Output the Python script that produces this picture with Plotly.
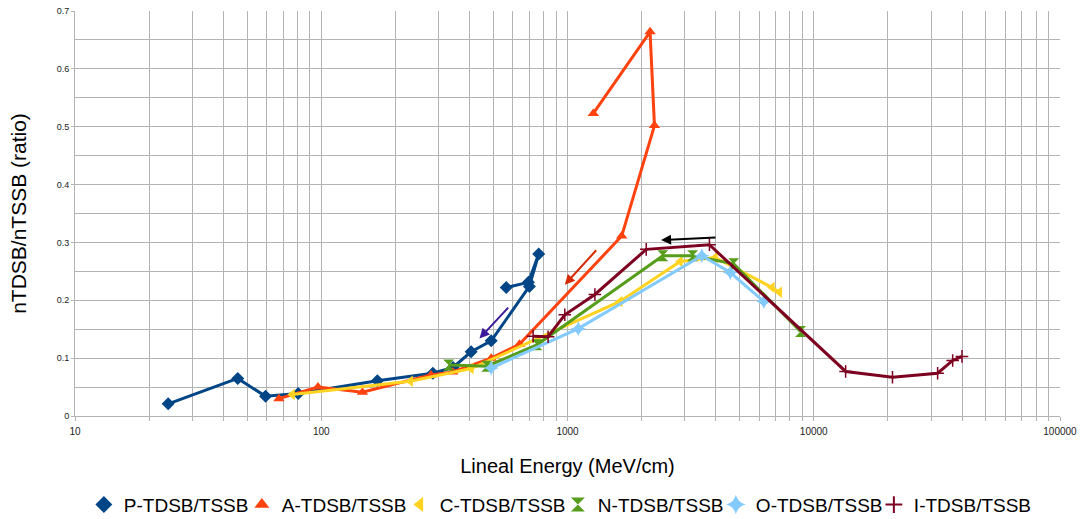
import numpy as np
import plotly.graph_objects as go

# ---- data ----
p_x = [23.9, 45.8, 59.4, 80.6, 169, 284, 343, 406, 490, 700, 764, 694, 564]
p_y = [0.021, 0.065, 0.034, 0.039, 0.061, 0.074, 0.084, 0.111, 0.130, 0.224, 0.280, 0.231, 0.222]

a_x = [67.3, 97, 147, 279, 342, 490, 638, 1660, 2255, 2164, 1273]
a_y = [0.030, 0.050, 0.041, 0.071, 0.076, 0.100, 0.124, 0.311, 0.502, 0.664, 0.523]

c_x = [76.3, 230, 406, 1634, 2867, 3981, 6776, 7256]
c_y = [0.037, 0.060, 0.082, 0.198, 0.267, 0.274, 0.222, 0.214]

n_x = [329, 470, 751, 2438, 3221, 4732, 8837]
n_y = [0.088, 0.086, 0.123, 0.277, 0.277, 0.263, 0.146]

o_x = [490, 1106, 3513, 4583, 6268]
o_y = [0.083, 0.151, 0.277, 0.248, 0.198]

i_x = [725, 834, 975, 1292, 2088, 3771, 13476, 20880, 31842, 36660, 39990]
i_y = [0.138, 0.137, 0.175, 0.210, 0.288, 0.296, 0.077, 0.067, 0.074, 0.096, 0.103]

series_names = ["P-TDSB/TSSB", "A-TDSB/TSSB", "C-TDSB/TSSB", "N-TDSB/TSSB", "O-TDSB/TSSB", "I-TDSB/TSSB"]

x_tickvals = [10, 100, 1000, 10000, 100000]
x_ticktext = ["10", "100", "1000", "10000", "100000"]

# arrows: (tail x, tail y, head x, head y, color)
arrows = [
    (582, 0.190, 439, 0.134, "#3a1a9a"),
    (1325, 0.289, 975, 0.227, "#d62b00"),
    (4046, 0.3085, 2399, 0.304, "#000000"),
]

# ---- styles ----
colors = ["#004586", "#ff420e", "#ffd320", "#579d1c", "#83caff", "#7e0021"]
symbols = ["diamond", "triangle-up", "triangle-left", "hourglass", "star-diamond", "cross-thin"]
sizes = [10, 10, 10, 11, 11, 9]

data = [(p_x, p_y), (a_x, a_y), (c_x, c_y), (n_x, n_y), (o_x, o_y), (i_x, i_y)]

fig = go.Figure()
for k, (xs, ys) in enumerate(data):
    mk = dict(symbol=symbols[k], size=sizes[k], color=colors[k],
              line=dict(width=1.5 if symbols[k] == "cross-thin" else 0, color=colors[k]))
    fig.add_trace(go.Scatter(x=xs, y=ys, mode="lines+markers", name=series_names[k],
                             line=dict(color=colors[k], width=3), marker=mk,
                             showlegend=False))
# legend proxies (markers only, as in the reference legend)
for k in range(6):
    mk = dict(symbol=symbols[k], size=sizes[k] + 3, color=colors[k],
              line=dict(width=2 if symbols[k] == "cross-thin" else 0, color=colors[k]))
    fig.add_trace(go.Scatter(x=[None], y=[None], mode="markers", name=series_names[k],
                             marker=mk, showlegend=True))

for tx, ty, hx, hy, col in arrows:
    fig.add_annotation(x=np.log10(hx), y=hy, ax=np.log10(tx), ay=ty,
                       xref="x", yref="y", axref="x", ayref="y",
                       showarrow=True, arrowhead=2, arrowsize=1, arrowwidth=2,
                       arrowcolor=col, text="")

minor_x = [m * 10 ** e for e in range(1, 5) for m in range(2, 10)]

fig.update_xaxes(type="log", range=[1, 5], tickvals=x_tickvals, ticktext=x_ticktext,
                 showgrid=True, gridcolor="#b3b3b3", gridwidth=1,
                 ticks="outside", ticklen=4, tickcolor="#b3b3b3", ticklabelstandoff=2,
                 showline=True, linecolor="#b3b3b3", linewidth=1, zeroline=False,
                 tickfont=dict(family="Liberation Sans, Arial", size=10, color="#222"),
                 minor=dict(tickvals=minor_x, showgrid=True, gridcolor="#b3b3b3",
                            gridwidth=1, ticks="outside", ticklen=4, tickcolor="#b3b3b3"),
                 title=dict(text="Lineal Energy (MeV/cm)", standoff=22,
                            font=dict(family="Liberation Sans, Arial", size=20, color="#000")))
fig.update_yaxes(range=[0, 0.7], dtick=0.1, tick0=0,
                 showgrid=True, gridcolor="#b3b3b3", gridwidth=1,
                 ticks="outside", ticklen=3, tickcolor="#b3b3b3",
                 showline=True, linecolor="#b3b3b3", linewidth=1, zeroline=False,
                 tickfont=dict(family="Liberation Sans, Arial", size=9, color="#222"),
                 minor=dict(dtick=0.05, showgrid=True, gridcolor="#b3b3b3", gridwidth=1),
                 title=dict(text="nTDSB/nTSSB (ratio)", standoff=24,
                            font=dict(family="Liberation Sans, Arial", size=21, color="#000")))

fig.update_layout(
    width=1082, height=519,
    margin=dict(l=75, r=22, t=11, b=103, autoexpand=False),
    paper_bgcolor="white", plot_bgcolor="white",
    font=dict(family="Liberation Sans, Arial", color="#000"),
    legend=dict(orientation="h", x=0.009, xanchor="left", y=-0.219, yanchor="middle",
                font=dict(size=19), entrywidth=113, itemwidth=30,
                bgcolor="rgba(0,0,0,0)"),
)

fig.write_html("out.html")
